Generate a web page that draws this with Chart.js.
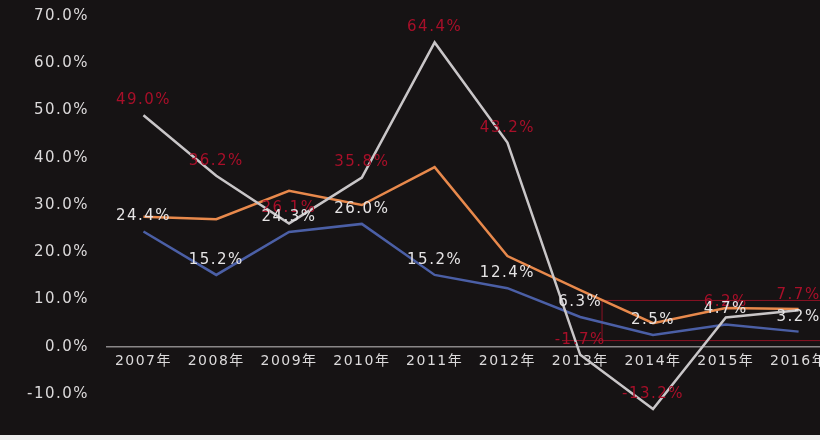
<!DOCTYPE html>
<html>
<head>
<meta charset="utf-8">
<script src="https://cdn.jsdelivr.net/npm/chart.js@4.4.1/dist/chart.umd.min.js"></script>
<style>
  html, body { margin: 0; padding: 0; background: #efefef; overflow: hidden; }
  #wrap { width: 820px; height: 435px; overflow: hidden; background: #161314; }
  #wrap canvas { display: block; margin-top: -11px; }
</style>
</head>
<body>
<div id="wrap"><canvas id="growthChart" width="845" height="448"></canvas></div>
<script>
const years = ["2007年", "2008年", "2009年", "2010年", "2011年", "2012年", "2013年", "2014年", "2015年", "2016年"];
const blueVals = [24.4, 15.2, 24.3, 26.0, 15.2, 12.4, 6.3, 2.5, 4.7, 3.2];
const orangeVals = [27.5, 27.0, 33.0, 30.0, 38.0, 19.2, 12.0, 5.0, 8.2, 8.0];
const greyVals = [49.0, 36.2, 26.1, 35.8, 64.4, 43.2, -1.7, -13.2, 6.2, 7.7];

const yMin = -10;
const yMax = 70;
const yStep = 10;

// red bracket drawn over 2013-2016 (values in %, positions as category index)
const bracketTop = 9.8;
const bracketBottom = 1.3;
const bracketTopStart = 6.3;
const bracketBottomStart = 5.75;

const fontFamily = "'DejaVu Sans', 'Noto Sans CJK SC', sans-serif";
const spacing = "1.5px";

const bgPlugin = {
  id: "bg",
  beforeLayout(c) {
    c.ctx.letterSpacing = spacing;
  },
  beforeDraw(c) {
    const ctx = c.ctx;
    ctx.letterSpacing = spacing;
    ctx.save();
    ctx.fillStyle = "#161314";
    ctx.fillRect(0, 0, c.width, c.height);
    ctx.restore();
  }
};

function xAt(scale, idx) {
  const i = Math.floor(idx);
  const p0 = scale.getPixelForValue(i);
  const p1 = scale.getPixelForValue(i + 1);
  return p0 + (idx - i) * (p1 - p0);
}

const bracketPlugin = {
  id: "bracket",
  beforeDatasetsDraw(c) {
    const ctx = c.ctx;
    const x = c.scales.x, y = c.scales.y;
    const yt = y.getPixelForValue(bracketTop);
    const yb = y.getPixelForValue(bracketBottom);
    const xt = xAt(x, bracketTopStart);
    const xb = xAt(x, bracketBottomStart);
    ctx.save();
    ctx.strokeStyle = "#8c1224";
    ctx.lineWidth = 1;
    ctx.beginPath();
    ctx.moveTo(xt, yt); ctx.lineTo(c.width, yt);
    ctx.moveTo(xb, yb); ctx.lineTo(c.width, yb);
    ctx.moveTo(xt, yt); ctx.lineTo(xt, yb);
    ctx.stroke();
    ctx.restore();
  }
};

const labelPlugin = {
  id: "valueLabels",
  afterDatasetsDraw(c) {
    const ctx = c.ctx;
    ctx.save();
    ctx.letterSpacing = spacing;
    ctx.textAlign = "center";
    ctx.textBaseline = "middle";
    c.data.datasets.forEach((ds, di) => {
      if (!ds.labelColor) return;
      const meta = c.getDatasetMeta(di);
      ctx.fillStyle = ds.labelColor;
      ctx.font = ds.labelFont;
      meta.data.forEach((pt, i) => {
        ctx.fillText(ds.data[i].toFixed(1) + "%", pt.x, pt.y - 15);
      });
    });
    ctx.restore();
  }
};

const ctx = document.getElementById("growthChart").getContext("2d");

new Chart(ctx, {
  type: "line",
  data: {
    labels: years,
    datasets: [
      { label: "grey", data: greyVals, borderColor: "#c9c6c8", borderWidth: 2.5, pointRadius: 0, tension: 0, clip: false,
        labelColor: "#a80f29", labelFont: "15px " + fontFamily },
      { label: "orange", data: orangeVals, borderColor: "#e8894c", borderWidth: 2.5, pointRadius: 0, tension: 0, clip: false },
      { label: "blue", data: blueVals, borderColor: "#4b5fa6", borderWidth: 2.5, pointRadius: 0, tension: 0, clip: false,
        labelColor: "#e6e4e5", labelFont: "15px " + fontFamily }
    ]
  },
  options: {
    responsive: false,
    animation: false,
    layout: { padding: { top: 0, right: 10, bottom: 43, left: 9 } },
    plugins: { legend: { display: false }, tooltip: { enabled: false } },
    scales: {
      x: {
        position: { y: 0 },
        offset: true,
        grid: { display: false, drawTicks: false },
        border: { color: "#8a8788", width: 1.5 },
        ticks: { color: "#dcdadb", font: { size: 14, family: fontFamily }, padding: 6, maxRotation: 0, autoSkip: false }
      },
      y: {
        min: yMin,
        max: yMax,
        grid: { display: false, drawTicks: false },
        border: { display: false },
        ticks: {
          stepSize: yStep,
          color: "#dcdadb",
          font: { size: 15, family: fontFamily },
          padding: 18,
          callback: v => v.toFixed(1) + "%"
        }
      }
    }
  },
  plugins: [bgPlugin, bracketPlugin, labelPlugin]
});
</script>
</body>
</html>
